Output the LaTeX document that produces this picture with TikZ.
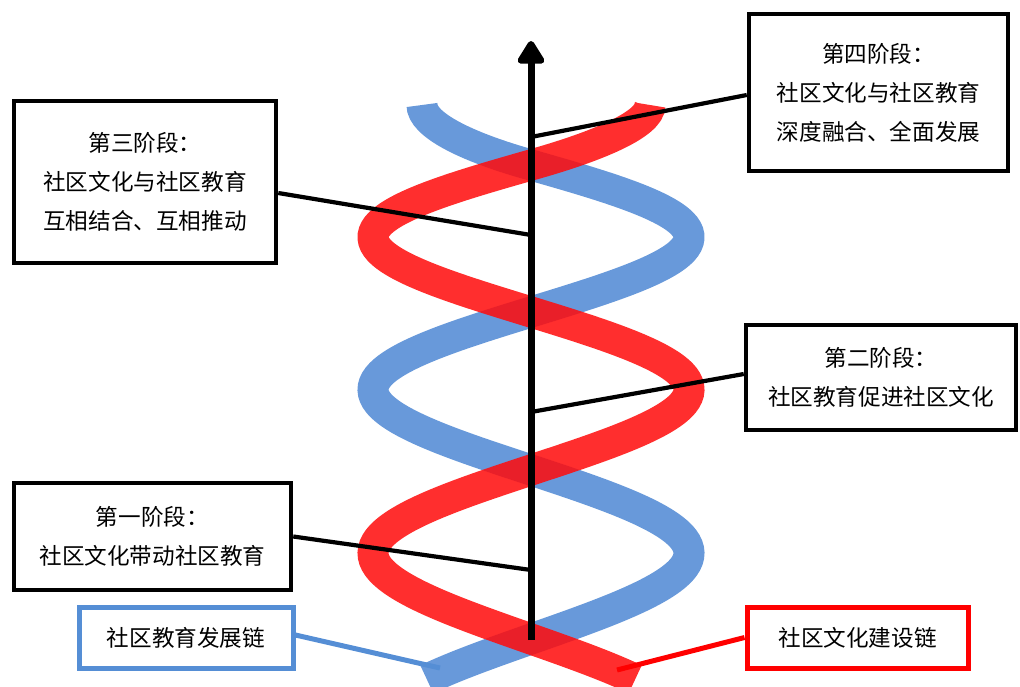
\documentclass[tikz,border=0pt]{standalone}
\usepackage{fontspec}
\setmainfont{Noto Sans CJK SC}
\usetikzlibrary{arrows.meta,calc}
\definecolor{strandblue}{RGB}{104,153,218}
\definecolor{boxblue}{RGB}{85,142,213}
\definecolor{strandred}{RGB}{255,12,12}

\tikzset{
  stagebox/.style={draw=black, line width=2.25pt, fill=white, align=center, inner sep=0pt,
    font=\fontsize{11.3}{19.5}\selectfont},
  chainbox/.style={stagebox, line width=2.5pt, minimum height=30.5pt},
  leader/.style={line width=2.1pt},
  strand/.style={line width=15.5pt},
}

\begin{document}
\begin{tikzpicture}[x=0.5pt, y=-0.5pt]
    \useasboundingbox (0,0) rectangle (1020,686);

    % blue chain (education), upper end curls in, then the helix
    \draw[strand, strandblue] (422,105) .. controls (422,124) and (463,146) .. (531,165)
        -- plot[domain=0:3.23, samples=160, smooth, variable=\t]
        ({531+158*sin(180*\t)}, {165+141.5*\t+5.5*\t*\t});

    % red chain (culture), laid over the blue one
    \draw[strand, strandred, opacity=0.86] (650,105) .. controls (650,124) and (599,146) .. (531,165)
        -- plot[domain=0:3.23, samples=160, smooth, variable=\t]
        ({531-158*sin(180*\t)}, {165+141.5*\t+5.5*\t*\t});

    % the axis through the helix
    \coordinate (base) at (531,640);
    \coordinate (tip) at (531,41);
    \draw[line width=3.5pt, -{Triangle[width=15pt,length=13pt,round]}] (base) -- (tip);

    % stage boxes
    \node[stagebox, minimum width=129.5pt, minimum height=78.5pt] (stage4) at (878.5,92.5)
        {第四阶段：\\社区文化与社区教育\\深度融合、全面发展};
    \node[stagebox, minimum width=131pt, minimum height=81pt] (stage3) at (145,182)
        {第三阶段：\\社区文化与社区教育\\互相结合、互相推动};
    \node[stagebox, minimum width=135pt, minimum height=52.5pt] (stage2) at (881,377.5)
        {第二阶段：\\社区教育促进社区文化};
    \node[stagebox, minimum width=138.5pt, minimum height=53.5pt] (stage1) at (152.5,536.5)
        {第一阶段：\\社区文化带动社区教育};

    % chain labels
    \node[chainbox, draw=boxblue, minimum width=107pt] (edu) at (186,637.5) {社区教育发展链};
    \node[chainbox, draw=red, minimum width=110.5pt] (cul) at (857.5,637.5) {社区文化建设链};

    % leaders to the axis
    \coordinate (p4) at (531,137);
    \coordinate (p3) at (531,235);
    \coordinate (p2) at (531,412);
    \coordinate (p1) at (531,570);
    \draw[leader] ([yshift=-1.25pt]stage4.west) -- (p4);
    \draw[leader] ([yshift=-5.5pt]stage3.east) -- (p3);
    \draw[leader] ([yshift=1.75pt]stage2.west) -- (p2);
    \draw[leader] (stage1.east) -- (p1);

    % leaders to the chains
    \coordinate (eduend) at (440,668);
    \coordinate (culend) at (617,670);
    \draw[leader, line width=2.5pt, boxblue] ([yshift=1.25pt]edu.east) -- (eduend);
    \draw[leader, line width=2.5pt, red] (cul.west) -- (culend);

\end{tikzpicture}
\end{document}
